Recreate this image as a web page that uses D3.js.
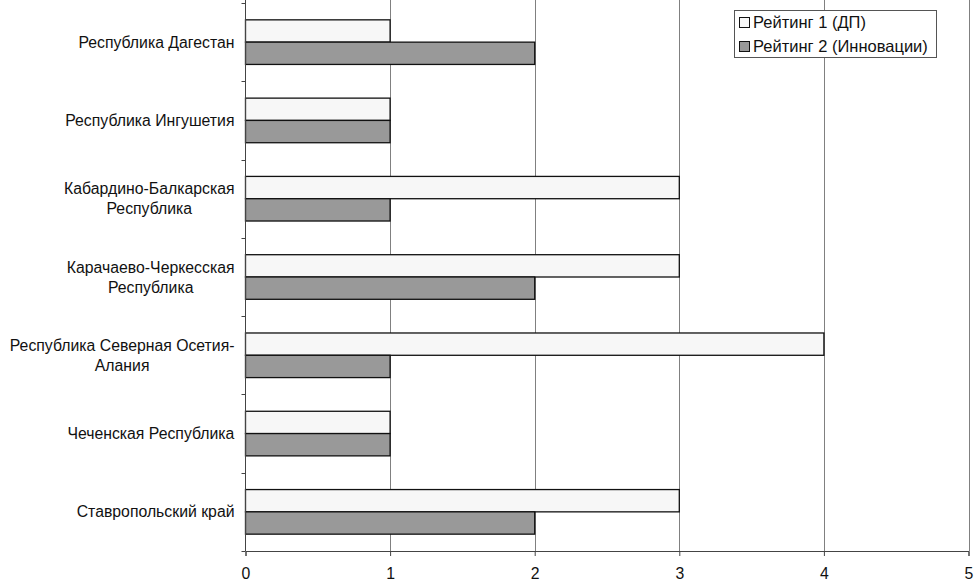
<!DOCTYPE html>
<html><head><meta charset="utf-8">
<script src="https://cdn.jsdelivr.net/npm/d3@7"></script>
<style>body{margin:0;background:#fff}svg{display:block}text{font-family:"Liberation Sans",Arial,sans-serif;fill:#111}</style>
</head><body><svg id="c" width="978" height="586"></svg>
<script>
const categories = [
  ["Республика Дагестан"],
  ["Республика Ингушетия"],
  ["Кабардино-Балкарская", "Республика"],
  ["Карачаево-Черкесская", "Республика"],
  ["Республика Северная Осетия-", "Алания"],
  ["Чеченская Республика"],
  ["Ставропольский край"]
];
const seriesNames = ["Рейтинг 1 (ДП)", "Рейтинг 2 (Инновации)"];
const rating1 = [1, 1, 3, 3, 4, 1, 3];
const rating2 = [2, 1, 1, 2, 1, 1, 2];
const xTicks = [0, 1, 2, 3, 4, 5];
const colors = ["#f7f7f7", "#999999"];

const svg = d3.select("#c");
const pLeft = 245.5, pRight = 968.5, pTop = 3, pBottom = 551;
const x = d3.scaleLinear().domain([0, 5]).range([pLeft, pRight]);
const y = d3.scaleBand().domain(d3.range(categories.length)).range([pTop, pBottom]).paddingInner(0).paddingOuter(0);
const barH = 22.3;
const sub = d3.scaleBand().domain([0, 1]).range([-barH, barH]);

// gridlines
svg.append("g").selectAll("line").data(xTicks.slice(1)).join("line")
  .attr("x1", d => Math.round(x(d)) + 0.5).attr("x2", d => Math.round(x(d)) + 0.5)
  .attr("y1", pTop - 3).attr("y2", pBottom)
  .attr("stroke", "#808080").attr("stroke-width", 1);

// bars
const series = [rating1, rating2];
series.forEach((vals, si) => {
  svg.append("g").selectAll("rect").data(vals).join("rect")
    .attr("x", x(0))
    .attr("y", (d, i) => y(i) + y.bandwidth() / 2 + sub(si))
    .attr("width", d => x(d) - x(0))
    .attr("height", barH)
    .attr("fill", colors[si]).attr("stroke", "#111").attr("stroke-width", 1.3);
});

// y axis
const ya = svg.append("g");
ya.append("line").attr("x1", pLeft).attr("x2", pLeft).attr("y1", pTop - 3).attr("y2", pBottom).attr("stroke", "#444").attr("stroke-width", 1);
ya.selectAll("line.t").data(d3.range(categories.length + 1)).join("line").attr("class", "t")
  .attr("x1", pLeft - 4).attr("x2", pLeft)
  .attr("y1", d => Math.round(pTop + d * y.step()) + 0.5).attr("y2", d => Math.round(pTop + d * y.step()) + 0.5)
  .attr("stroke", "#444");

// x axis
const xa = svg.append("g").attr("transform", `translate(0,${pBottom})`)
  .call(d3.axisBottom(x).tickValues(xTicks).tickSize(5).tickFormat(d3.format("d")));
xa.select(".domain").attr("stroke", "#444");
xa.selectAll(".tick line").attr("stroke", "#444");
xa.selectAll(".tick text").attr("font-size", 15.8).attr("dy", "1.25em").style("font-family", '"Liberation Sans",Arial,sans-serif').attr("fill", "#111");

// category labels
const lab = svg.append("g");
categories.forEach((lines, i) => {
  const t = lab.append("text").attr("font-size", 15.8).attr("text-anchor", "middle");
  const lh = 20;
  const cy = y(i) + y.bandwidth() / 2;
  const y0 = cy - (lines.length - 1) * lh / 2;
  lines.forEach((ln, j) => {
    t.append("tspan").attr("x", 0).attr("y", y0 + j * lh).attr("dy", "0.35em").text(ln);
  });
  const w = t.node().getBBox().width;
  t.selectAll("tspan").attr("x", 234.5 - w / 2);
});

// legend
const lg = svg.append("g");
lg.append("rect").attr("x", 734.5).attr("y", 10.5).attr("width", 202).attr("height", 47).attr("fill", "#fff").attr("stroke", "#555");
seriesNames.forEach((n, i) => {
  const cy = 22.5 + i * 24;
  lg.append("rect").attr("x", 739.5).attr("y", cy - 5).attr("width", 10).attr("height", 10).attr("fill", colors[i]).attr("stroke", "#111");
  lg.append("text").attr("x", 753).attr("y", cy).attr("dy", "0.35em").attr("font-size", 16.5).text(n);
});
</script></body></html>
